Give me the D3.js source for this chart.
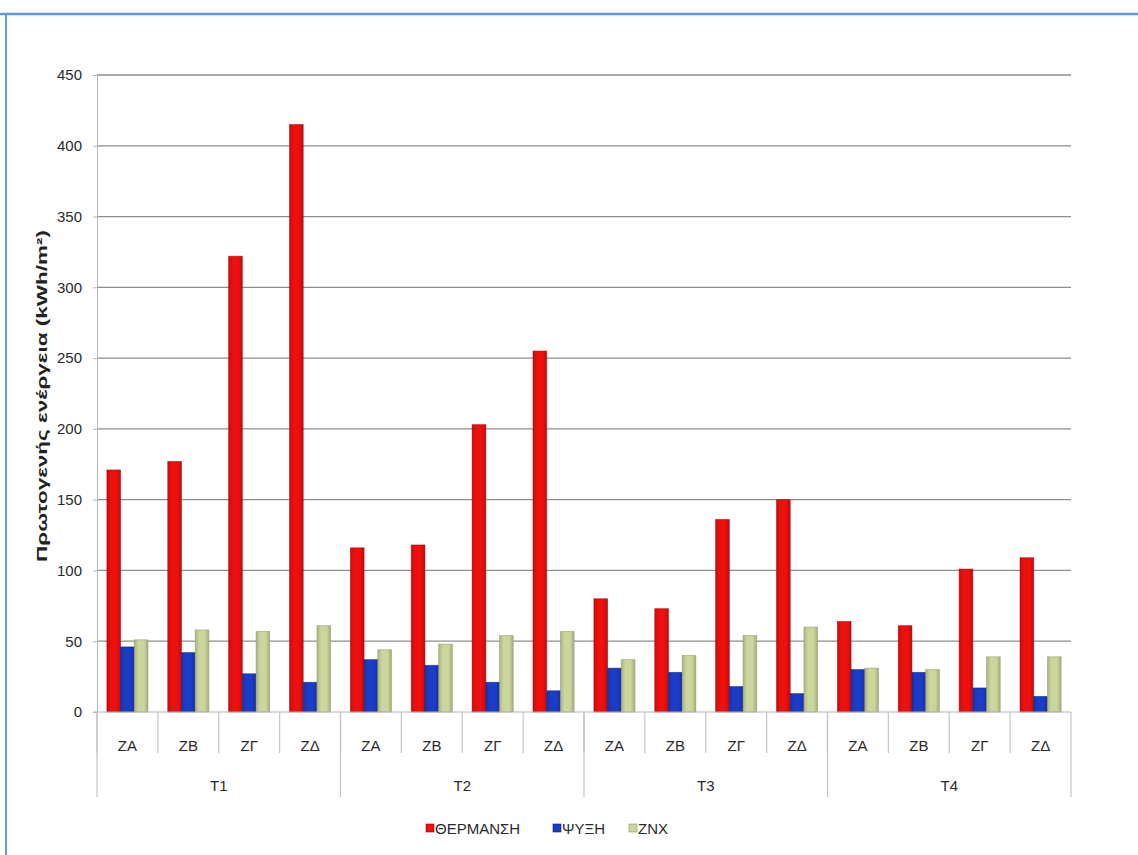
<!DOCTYPE html>
<html>
<head>
<meta charset="utf-8">
<script src="https://cdn.jsdelivr.net/npm/d3@7"></script>
<style>
  html, body { margin: 0; padding: 0; background: #fff; }
  svg { display: block; }
  text { font-family: "Liberation Sans", Arial, sans-serif; }
</style>
</head>
<body>
<svg id="chart" width="1138" height="855"></svg>
<script>
const groups = ["T1", "T2", "T3", "T4"];
const zones = ["ΖΑ", "ΖΒ", "ΖΓ", "ΖΔ"];
const seriesNames = ["ΘΕΡΜΑΝΣΗ", "ΨΥΞΗ", "ΖΝΧ"];
const heating = [171, 177, 322, 415, 116, 118, 203, 255, 80, 73, 136, 150, 64, 61, 101, 109];
const cooling = [46, 42, 27, 21, 37, 33, 21, 15, 31, 28, 18, 13, 30, 28, 17, 11];
const dhw = [51, 58, 57, 61, 44, 48, 54, 57, 37, 40, 54, 60, 31, 30, 39, 39];
const yTicks = [0, 50, 100, 150, 200, 250, 300, 350, 400, 450];
const yLabel = "Πρωτογενής ενέργεια (kWh/m²)";

const seriesValues = [heating, cooling, dhw];
const fills = ["#ee0f0f", "#1b3cc8", "#ccd69c"];
const strokes = ["#a00000", "#0c1f7a", "#8f9766"];

const svg = d3.select("#chart");

// frame
svg.append("line").attr("x1", 0).attr("x2", 1138).attr("y1", 14).attr("y2", 14)
  .attr("stroke", "#5f9bdc").attr("stroke-width", 2.5);
svg.append("line").attr("x1", 6).attr("x2", 6).attr("y1", 13).attr("y2", 855)
  .attr("stroke", "#5f9bdc").attr("stroke-width", 2);

const pLeft = 97, pRight = 1071, pTop = 75, pBottom = 712;

const y = d3.scaleLinear().domain([0, 450]).range([pBottom, pTop]);
const xg = d3.scaleBand().domain(groups).range([pLeft, pRight]).padding(0);
const xz = d3.scaleBand().domain(zones).range([0, xg.bandwidth()]).padding(0);
const xs = d3.scaleBand().domain(seriesNames).range([0, xz.bandwidth()]).paddingInner(0).paddingOuter(0.72);

// gridlines
svg.append("g").selectAll("line").data(yTicks.filter(d => d > 0)).join("line")
  .attr("x1", pLeft).attr("x2", pRight)
  .attr("y1", d => y(d)).attr("y2", d => y(d))
  .attr("stroke", "#8e8e8e").attr("stroke-width", 1.3);

// y axis
const yAxis = d3.axisLeft(y).tickValues(yTicks).tickSize(4).tickPadding(11);
const ya = svg.append("g").attr("transform", `translate(${pLeft},0)`).call(yAxis);
ya.select(".domain").attr("stroke", "#b5b5b5");
ya.selectAll(".tick line").attr("stroke", "#b5b5b5");
ya.selectAll(".tick text").attr("font-size", 15).attr("fill", "#2a2a2a");

svg.append("text")
  .attr("transform", `translate(47,396) rotate(-90)`)
  .attr("text-anchor", "middle")
  .attr("font-size", 15).attr("font-weight", "bold").attr("fill", "#222")
  .attr("textLength", 332).attr("lengthAdjust", "spacingAndGlyphs")
  .text(yLabel);

// data rows
const rows = [];
groups.forEach((g, gi) => zones.forEach((z, zi) => {
  const i = gi * zones.length + zi;
  seriesNames.forEach((s, si) => rows.push({ g, z, s, si, v: seriesValues[si][i] }));
}));

const defs = svg.append("defs");
fills.forEach((c, i) => {
  const gr = defs.append("linearGradient").attr("id", "grad" + i).attr("x1", 0).attr("x2", 1).attr("y1", 0).attr("y2", 0);
  gr.append("stop").attr("offset", "0%").attr("stop-color", d3.color(c).darker(0.5));
  gr.append("stop").attr("offset", "30%").attr("stop-color", c);
  gr.append("stop").attr("offset", "70%").attr("stop-color", c);
  gr.append("stop").attr("offset", "100%").attr("stop-color", d3.color(c).darker(0.6));
});

svg.append("g").selectAll("rect").data(rows).join("rect")
  .attr("x", d => xg(d.g) + xz(d.z) + xs(d.s))
  .attr("width", xs.bandwidth())
  .attr("y", d => y(d.v))
  .attr("height", d => pBottom - y(d.v))
  .attr("fill", d => `url(#grad${d.si})`)
  .attr("stroke", d => strokes[d.si]).attr("stroke-width", 0.8).attr("stroke-opacity", 0.6);

// x axis baseline
svg.append("line").attr("x1", pLeft - 4).attr("x2", pRight).attr("y1", pBottom).attr("y2", pBottom)
  .attr("stroke", "#b5b5b5").attr("stroke-width", 1.2);

// category separators
const zoneBounds = [];
groups.forEach(g => zones.forEach(z => zoneBounds.push(xg(g) + xz(z))));
svg.append("g").selectAll("line").data(zoneBounds).join("line")
  .attr("x1", d => d).attr("x2", d => d)
  .attr("y1", pBottom).attr("y2", 753)
  .attr("stroke", "#c4c4c4").attr("stroke-width", 1.2);
const groupBounds = groups.map(g => xg(g)).concat([pRight]);
svg.append("g").selectAll("line").data(groupBounds).join("line")
  .attr("x1", d => d).attr("x2", d => d)
  .attr("y1", pBottom).attr("y2", 797)
  .attr("stroke", "#c4c4c4").attr("stroke-width", 1.2);

// zone labels
const zoneLabels = [];
groups.forEach(g => zones.forEach(z => zoneLabels.push({ g, z })));
svg.append("g").selectAll("text").data(zoneLabels).join("text")
  .attr("x", d => xg(d.g) + xz(d.z) + xz.bandwidth() / 2)
  .attr("y", 751)
  .attr("text-anchor", "middle").attr("font-size", 15).attr("fill", "#2a2a2a")
  .text(d => d.z);

// group labels
svg.append("g").selectAll("text").data(groups).join("text")
  .attr("x", d => xg(d) + xg.bandwidth() / 2)
  .attr("y", 791)
  .attr("text-anchor", "middle").attr("font-size", 15).attr("fill", "#2a2a2a")
  .text(d => d);

// legend
const legendX = [426, 553, 629];
const lg = svg.append("g").selectAll("g").data(seriesNames).join("g")
  .attr("transform", (d, i) => `translate(${legendX[i]},834)`);
lg.append("rect").attr("x", 0).attr("y", -10).attr("width", 8).attr("height", 8)
  .attr("fill", (d, i) => fills[i]).attr("stroke", (d, i) => strokes[i]).attr("stroke-width", 0.6);
lg.append("text").attr("x", 9).attr("y", 0).attr("font-size", 15).attr("fill", "#2a2a2a").text(d => d);
</script>
</body>
</html>
